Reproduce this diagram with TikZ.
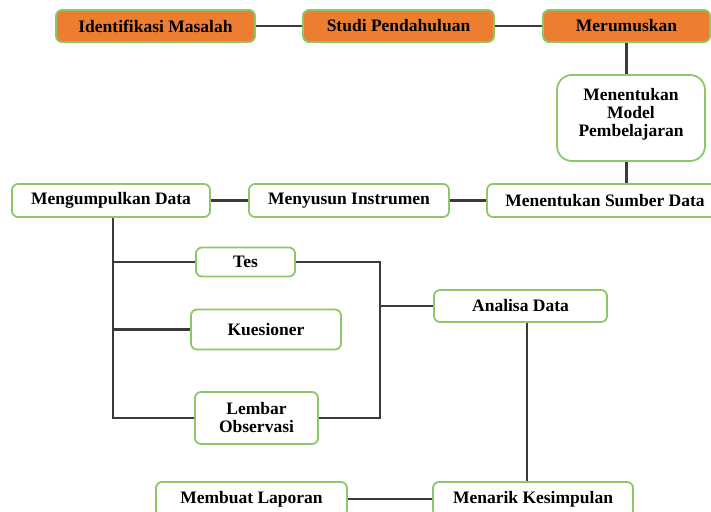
\documentclass[tikz,border=0pt]{standalone}
\usepackage{fontspec}
\setmainfont{Liberation Serif}
\definecolor{boxorange}{HTML}{ED7D31}
\definecolor{boxgreen}{HTML}{8CC868}
\definecolor{linegray}{HTML}{3A3A3A}
\begin{document}
\begin{tikzpicture}[x=1pt,y=-1pt,
  box/.style={draw=boxgreen, line width=1.8pt, rounded corners=6pt, fill=white,
    align=center, inner sep=0pt, text=black,
    font=\fontsize{17.5}{18}\selectfont\bfseries},
  obox/.style={box, fill=boxorange},
  conn/.style={draw=linegray, line width=2.2pt}]
\useasboundingbox (0,0) rectangle (711,511);
\clip (0,0) rectangle (711,511);
\fill[white] (0,0) rectangle (711,511);
% top row
\node[obox, minimum width=199pt, minimum height=32pt] (idm) at (155.5,26) {Identifikasi Masalah};
\node[obox, minimum width=191pt, minimum height=32pt] (studi) at (398.5,26) {Studi Pendahuluan};
\node[obox, minimum width=167pt, minimum height=32pt] (merum) at (626.5,26) {Merumuskan};
\node[box, rounded corners=15pt, minimum width=148pt, minimum height=86pt] (model) at (631,118) {Menentukan\\Model\\Pembelajaran\\[-6pt]};
% second row
\node[box, minimum width=236pt, minimum height=33pt] (sumber) at (605,200.5) {Menentukan Sumber Data};
\node[box, minimum width=200pt, minimum height=33pt] (menyusun) at (349,200.5) {Menyusun Instrumen};
\node[box, minimum width=198pt, minimum height=33pt] (mengump) at (111,200.5) {Mengumpulkan Data};
% instruments
\node[box, minimum width=99pt, minimum height=29pt] (tes) at (245.5,262) {Tes};
\node[box, minimum width=150pt, minimum height=40pt] (kues) at (266,329.5) {Kuesioner};
\node[box, minimum width=123pt, minimum height=52pt] (lembar) at (256.5,418) {Lembar\\Observasi};
\node[box, minimum width=173pt, minimum height=32pt] (analisa) at (520.5,306) {Analisa Data};
% bottom row
\node[box, minimum width=200pt, minimum height=34pt] (menarik) at (533,499) {Menarik Kesimpulan};
\node[box, minimum width=191pt, minimum height=34pt] (membuat) at (251.5,499) {Membuat Laporan};
\coordinate (trunk) at (113,0);
\coordinate (bus) at (380,0);
\coordinate (down) at (527,0);
% connectors
\draw[conn] (idm.east) -- (studi.west);
\draw[conn] (studi.east) -- (merum.west);
\draw[conn] (merum.south) -- (merum.south |- model.north);
\draw[conn] (model.south -| merum.south) -- (merum.south |- sumber.north);
\draw[conn] (sumber.west) -- (menyusun.east);
\draw[conn] (menyusun.west) -- (mengump.east);
\draw[conn] (trunk |- mengump.south) -- (trunk |- lembar.west) -- (lembar.west);
\draw[conn] (trunk |- tes.west) -- (tes.west);
\draw[conn] (trunk |- kues.west) -- (kues.west);
\draw[conn] (tes.east) -- (bus |- tes.east) -- (bus |- lembar.east) -- (lembar.east);
\draw[conn] (bus |- analisa.west) -- (analisa.west);
\draw[conn] (down |- analisa.south) -- (down |- menarik.north);
\draw[conn] (menarik.west) -- (membuat.east);
\end{tikzpicture}
\end{document}
